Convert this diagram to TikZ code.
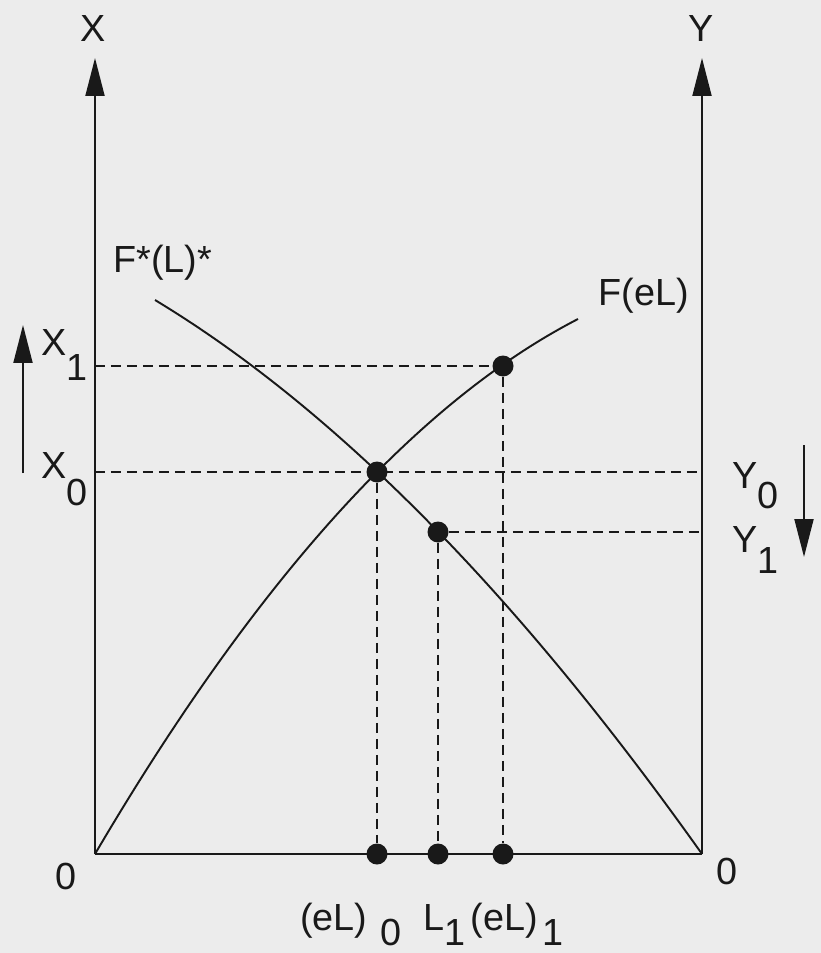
\documentclass[tikz,border=0pt]{standalone}
\usepackage{fontspec}
\setmainfont{Liberation Sans}
\usepackage{xcolor}
\usepackage{tikz}
\usetikzlibrary{arrows.meta, positioning, calc}
\definecolor{InkBlack}{RGB}{25, 25, 25}
\definecolor{PaperGray}{RGB}{236, 236, 236}
\newcommand{\lowsub}[2]{\raisebox{-#1}{#2}}

\begin{document}
\begin{tikzpicture}[
        x=0.02cm, y=-0.02cm,
        >={Triangle[length=0.76cm, width=0.38cm]},
        axis/.style={draw=InkBlack, line width=1.1pt},
        curve/.style={draw=InkBlack, line width=1.1pt},
        guide/.style={draw=InkBlack, line width=1.2pt, dash pattern=on 0.2cm off 0.12cm},
        dot/.style={circle, fill=InkBlack, inner sep=0pt, minimum size=0.42cm},
        lbl/.style={text=InkBlack, font=\fontsize{21.5}{25}\selectfont, inner sep=0pt}
    ]

    % Tlo
    \fill[PaperGray] (0,0) rectangle (821,953);
    \useasboundingbox (0,0) rectangle (821,953);

    % Osie
    \coordinate (O) at (95,854);
    \coordinate (OR) at (702,854);
    \coordinate (XT) at (95,58);
    \coordinate (YT) at (702,58);
    \draw[axis, ->] (O) -- (XT);
    \draw[axis, ->] (OR) -- (YT);
    \draw[axis] (O) -- (OR);

    % Punkty
    \node[dot] (E0) at (377,472) {};
    \node[dot] (P1) at (503,366) {};
    \node[dot] (Q1) at (438,532) {};
    \node[dot] (B0) at (377,854) {};
    \node[dot] (BL) at (438,854) {};
    \node[dot] (B1) at (503,854) {};

    % Krzywe
    \coordinate (FeLend) at (578,319);
    \coordinate (Fstart) at (155,300);
    \draw[curve] (O) .. controls (256,580) and (417,402) .. (FeLend);
    \draw[curve] (Fstart) .. controls (337,410) and (518,595) .. (OR);

    % Linie pomocnicze
    \draw[guide] (O |- P1) -- (P1);
    \draw[guide] (O |- E0) -- (OR |- E0);
    \draw[guide] (Q1) -- (OR |- Q1);
    \draw[guide] (E0) -- (B0);
    \draw[guide] (Q1) -- (BL);
    \draw[guide] (P1) -- (B1);

    % Strzalki zmian
    \coordinate (xlow) at (23,473);
    \coordinate (xhigh) at (23,325);
    \coordinate (yhigh) at (804,445);
    \coordinate (ylow) at (804,557);
    \draw[axis, ->] (xlow) -- (xhigh);
    \draw[axis, ->] (yhigh) -- (ylow);

    % Etykiety
    \node[lbl, anchor=base] (xname) at (93,42) {X};
    \node[lbl, anchor=base] (yname) at (701,42) {Y};
    \node[lbl, anchor=base west] (fstar) at (113,272) {F*(L)*};
    \node[lbl, anchor=base west] (feL) at (598,305) {F(eL)};
    \node[lbl, anchor=base west] (x1) at (41,355) {X\lowsub{0.52cm}{1}};
    \node[lbl, anchor=base west] (x0) at (41,478) {X\lowsub{0.56cm}{0}};
    \node[lbl, anchor=base west] (y0) at (732,488) {Y\lowsub{0.4cm}{0}};
    \node[lbl, anchor=base west] (y1) at (732,552) {Y\lowsub{0.42cm}{1}};
    \node[lbl] (zl) at (66,876) {0};
    \node[lbl] (zr) at (727,871) {0};
    \node[lbl, anchor=base west] (leq) at (300,930) {(eL)\hspace{0.25cm}\lowsub{0.3cm}{0}\hspace{0.45cm}L\lowsub{0.3cm}{1}\hspace{0.1cm}(eL)\hspace{0.1cm}\lowsub{0.3cm}{1}};

\end{tikzpicture}
\end{document}
